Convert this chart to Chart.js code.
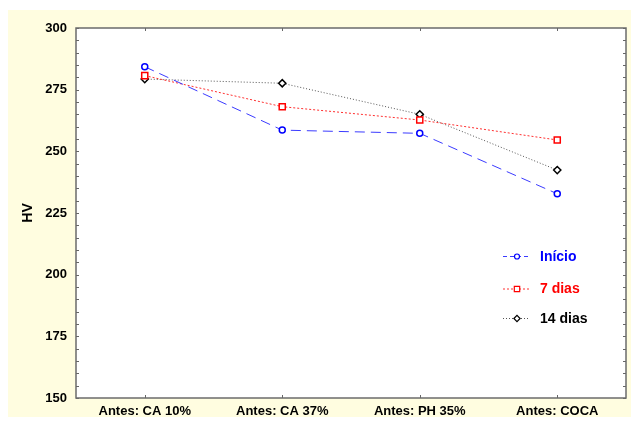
<!DOCTYPE html>
<html>
<head>
<meta charset="utf-8">
<script src="https://cdn.jsdelivr.net/npm/chart.js@4/dist/chart.umd.min.js"></script>
<style>
  html, body { margin: 0; padding: 0; background: #ffffff; }
  #wrap { width: 632px; height: 427px; position: relative; }
</style>
</head>
<body>
<div id="wrap"><canvas id="c" width="632" height="427"></canvas></div>
<script>
const categories = ["Antes: CA 10%", "Antes: CA 37%", "Antes: PH 35%", "Antes: COCA"];
const inicio = [284.3, 258.6, 257.3, 232.8];
const dias7 = [280.7, 268.1, 262.7, 254.6];
const dias14 = [279.3, 277.6, 265.0, 242.4];
const seriesNames = ["Início", "7 dias", "14 dias"];
const yTicks = [150, 175, 200, 225, 250, 275, 300];

const legendDash = [[4, 3], [2, 2], [1, 2]];

const bgPlugin = {
  id: 'bg',
  beforeDraw(chart) {
    const ctx = chart.ctx, a = chart.chartArea;
    ctx.save();
    ctx.fillStyle = '#ffffff';
    ctx.fillRect(0, 0, chart.width, chart.height);
    ctx.fillStyle = '#fffde0';
    ctx.fillRect(8, 10, 623, 407);
    ctx.fillStyle = '#ffffff';
    ctx.fillRect(a.left, a.top, a.right - a.left, a.bottom - a.top);
    ctx.restore();
  },
  afterDatasetsDraw(chart) {
    const ctx = chart.ctx, a = chart.chartArea;
    const y = chart.scales.y, x = chart.scales.x;
    ctx.save();
    ctx.strokeStyle = '#666666';
    ctx.lineWidth = 1;
    for (let v = 150; v <= 300; v += 5) {
      const py = Math.round(y.getPixelForValue(v)) + 0.5;
      ctx.beginPath();
      ctx.moveTo(a.left, py); ctx.lineTo(a.left + 3, py);
      ctx.moveTo(a.right, py); ctx.lineTo(a.right - 3, py);
      ctx.stroke();
    }
    categories.forEach((c, i) => {
      const px = Math.round(x.getPixelForValue(i)) + 0.5;
      ctx.beginPath();
      ctx.moveTo(px, a.top); ctx.lineTo(px, a.top + 3);
      ctx.moveTo(px, a.bottom); ctx.lineTo(px, a.bottom - 3);
      ctx.stroke();
    });
    ctx.strokeStyle = '#6b6b6b';
    ctx.lineWidth = 1.5;
    ctx.strokeRect(a.left, a.top, a.right - a.left, a.bottom - a.top);
    const rows = [256, 288.5, 318];
    const textColors = ['#0000ff', '#ff0000', '#000000'];
    chart.data.datasets.forEach((ds, i) => {
      const ly = rows[i];
      ctx.save();
      ctx.strokeStyle = ds.borderColor;
      ctx.lineWidth = ds.borderWidth;
      ctx.setLineDash(legendDash[i]);
      ctx.beginPath();
      ctx.moveTo(a.left + 427, ly + 0.5);
      ctx.lineTo(a.left + 454, ly + 0.5);
      ctx.stroke();
      ctx.restore();
      ctx.save();
      ctx.strokeStyle = ds.pointBorderColor;
      ctx.fillStyle = '#ffffff';
      ctx.lineWidth = 1.2;
      Chart.helpers.drawPoint(ctx, {
        pointStyle: ds.pointStyle,
        radius: ds.pointRadius - 0.5,
        borderWidth: 1.2,
        rotation: 0
      }, a.left + 441, ly + 0.5);
      ctx.restore();
      ctx.fillStyle = textColors[i];
      ctx.font = 'bold 14px "Liberation Sans", Arial, sans-serif';
      ctx.textBaseline = 'middle';
      ctx.textAlign = 'left';
      ctx.fillText(ds.label, a.left + 464, ly + 1);
    });
    ctx.restore();
  }
};

const font13 = { family: '"Liberation Sans", Arial, sans-serif', size: 13, weight: 'bold' };

new Chart(document.getElementById('c'), {
  type: 'line',
  data: {
    labels: categories,
    datasets: [
      { label: seriesNames[0], data: inicio, borderColor: '#3b3bff', borderWidth: 1, borderDash: [10, 6],
        pointStyle: 'circle', pointRadius: 3, pointBorderColor: '#0000ff', pointBackgroundColor: '#ffffff', pointBorderWidth: 1.5,
        tension: 0, fill: false },
      { label: seriesNames[1], data: dias7, borderColor: '#ff3030', borderWidth: 1, borderDash: [2, 2],
        pointStyle: 'rect', pointRadius: 4.3, pointBorderColor: '#ff0000', pointBackgroundColor: '#ffffff', pointBorderWidth: 1.5,
        tension: 0, fill: false },
      { label: seriesNames[2], data: dias14, borderColor: '#555555', borderWidth: 1, borderDash: [1, 2],
        pointStyle: 'rectRot', pointRadius: 3.6, pointBorderColor: '#000000', pointBackgroundColor: '#ffffff', pointBorderWidth: 1.5,
        tension: 0, fill: false }
    ]
  },
  options: {
    responsive: false,
    animation: false,
    devicePixelRatio: 1,
    layout: { padding: { left: 0, top: 28, right: 6, bottom: 0 } },
    plugins: { legend: { display: false }, tooltip: { enabled: false } },
    scales: {
      x: {
        offset: true,
        grid: { display: false, drawTicks: false },
        border: { display: false },
        ticks: { color: '#000000', font: font13, padding: 6, maxRotation: 0, autoSkip: false },
        afterFit(s) { s.height = 29; }
      },
      y: {
        min: 150, max: 300,
        afterBuildTicks(s) { s.ticks = yTicks.map(v => ({ value: v })); },
        grid: { display: false, drawTicks: false },
        border: { display: false },
        ticks: { color: '#000000', font: font13, padding: 9 },
        title: { display: true, text: 'HV', color: '#000000',
          font: { family: '"Liberation Sans", Arial, sans-serif', size: 14, weight: 'bold' },
          padding: { top: 20, bottom: 0 } },
        afterFit(s) { s.width = 76; }
      }
    }
  },
  plugins: [bgPlugin]
});
</script>
</body>
</html>
